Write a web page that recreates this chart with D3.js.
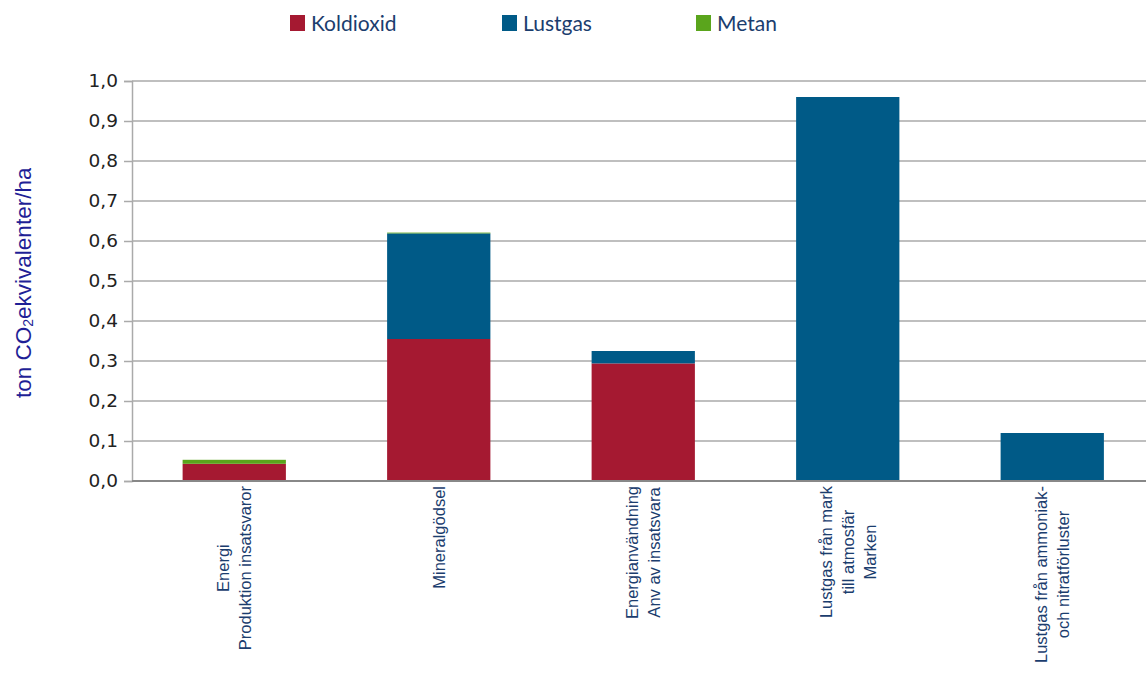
<!DOCTYPE html>
<html>
<head>
<meta charset="utf-8">
<script src="https://cdn.jsdelivr.net/npm/d3@7"></script>
<style>
  body { margin: 0; background: #fff; }
</style>
</head>
<body>
<div id="chart"></div>
<script>
// data
var categories = [
    ["Energi", "Produktion insatsvaror"],
    ["Mineralgödsel"],
    ["Energianvändning", "Anv av insatsvara"],
    ["Lustgas från mark", "till atmosfär", "Marken"],
    ["Lustgas från ammoniak-", "och nitratförluster"]
];
var seriesNames = ["Koldioxid", "Lustgas", "Metan"];
var koldioxid = [0.043, 0.355, 0.294, 0, 0];
var lustgas = [0, 0.264, 0.031, 0.96, 0.12];
var metan = [0.010, 0.002, 0, 0, 0];
var yTicks = [0, 0.1, 0.2, 0.3, 0.4, 0.5, 0.6, 0.7, 0.8, 0.9, 1.0];

var colors = ["#a51931", "#005a87", "#5aa51c"];

var W = 1146, H = 674;
var margin = {top: 81, left: 132, bottom: 193};
var plotW = 1022.5, plotH = H - margin.top - margin.bottom;

var svg = d3.select("#chart").append("svg")
    .attr("width", W)
    .attr("height", H);

var rows = categories.map(function(c, i) {
    return {idx: i, Koldioxid: koldioxid[i], Lustgas: lustgas[i], Metan: metan[i]};
});
var stacked = d3.stack().keys(seriesNames)(rows);

var x = d3.scaleBand()
    .domain(d3.range(categories.length))
    .range([margin.left, margin.left + plotW])
    .paddingInner(0.495)
    .paddingOuter(0.2475);

var y = d3.scaleLinear()
    .domain([0, 1])
    .range([margin.top + plotH, margin.top]);

// gridlines
svg.append("g")
    .selectAll("line")
    .data(yTicks)
    .enter()
    .append("line")
        .attr("x1", margin.left)
        .attr("x2", W)
        .attr("y1", function(d) { return y(d); })
        .attr("y2", function(d) { return y(d); })
        .attr("stroke", "#aaaaaa")
        .attr("stroke-width", 1.5);

// bars
svg.append("g")
    .selectAll("g")
    .data(stacked)
    .enter()
    .append("g")
        .attr("fill", function(d, i) { return colors[i]; })
    .selectAll("rect")
    .data(function(d) { return d; })
    .enter()
    .append("rect")
        .attr("x", function(d, i) { return x(i); })
        .attr("width", x.bandwidth())
        .attr("y", function(d) { return y(d[1]); })
        .attr("height", function(d) { return y(d[0]) - y(d[1]); });

// y axis
var yAxis = svg.append("g")
    .attr("transform", "translate(" + margin.left + ",0)")
    .call(d3.axisLeft(y)
        .tickValues(yTicks)
        .tickSize(8)
        .tickPadding(6)
        .tickFormat(function(d) { return d3.format(".1f")(d).replace(".", ","); }));
yAxis.select(".domain").attr("stroke", "#aaaaaa").attr("stroke-width", 1.5);
yAxis.selectAll(".tick line").attr("stroke", "#aaaaaa").attr("stroke-width", 1.5);
yAxis.selectAll(".tick text")
    .attr("font-family", "DejaVu Sans, sans-serif")
    .attr("font-size", "18.5px")
    .attr("fill", "#222");

// baseline
svg.append("line")
    .attr("x1", margin.left)
    .attr("x2", W)
    .attr("y1", y(0))
    .attr("y2", y(0))
    .attr("stroke", "#888888")
    .attr("stroke-width", 2);

// category labels, rotated
var lineGap = 22;
categories.forEach(function(lines, i) {
    var cx = x(i) + x.bandwidth() / 2;
    var g = svg.append("g");
    var texts = lines.map(function(t, j) {
        return g.append("text")
            .attr("text-anchor", "middle")
            .attr("dominant-baseline", "central")
            .attr("font-family", "Liberation Sans, Arial, sans-serif")
            .attr("font-size", "16.5px")
            .attr("fill", "#1b3d6e")
            .text(t);
    });
    var maxLen = d3.max(texts, function(t) { return t.node().getComputedTextLength(); });
    var cy = y(0) + 5 + maxLen / 2;
    texts.forEach(function(t, j) {
        var dx = (j - (lines.length - 1) / 2) * lineGap;
        t.attr("transform", "translate(" + (cx + dx) + "," + cy + ") rotate(-90)");
    });
});

// y axis title (clipped at top like the original)
svg.append("clipPath").attr("id", "titleClip")
    .append("rect").attr("x", 0).attr("y", 168).attr("width", 60).attr("height", 300);
var title = svg.append("g")
    .attr("clip-path", "url(#titleClip)")
    .append("text")
    .attr("transform", "translate(31,398) rotate(-90)")
    .attr("font-family", "Liberation Sans, Arial, sans-serif")
    .attr("font-size", "22.5px")
    .attr("fill", "#1f1f96");
title.append("tspan").text("ton CO");
title.append("tspan").attr("font-size", "14px").attr("dy", 2).text("2");
title.append("tspan").attr("dy", -2).text("ekvivalenter/ha");

// legend
var legendX = [290, 502, 696];
var legend = svg.append("g")
    .selectAll("g")
    .data(seriesNames)
    .enter()
    .append("g")
        .attr("transform", function(d, i) { return "translate(" + legendX[i] + ",15)"; });
legend.append("rect")
    .attr("width", 15)
    .attr("height", 16)
    .attr("fill", function(d, i) { return colors[i]; });
legend.append("text")
    .attr("x", 21)
    .attr("y", 16)
    .attr("font-family", "Lato, sans-serif")
    .attr("font-size", "21px")
    .attr("fill", "#1b3d6e")
    .text(function(d) { return d; });
</script>
</body>
</html>
